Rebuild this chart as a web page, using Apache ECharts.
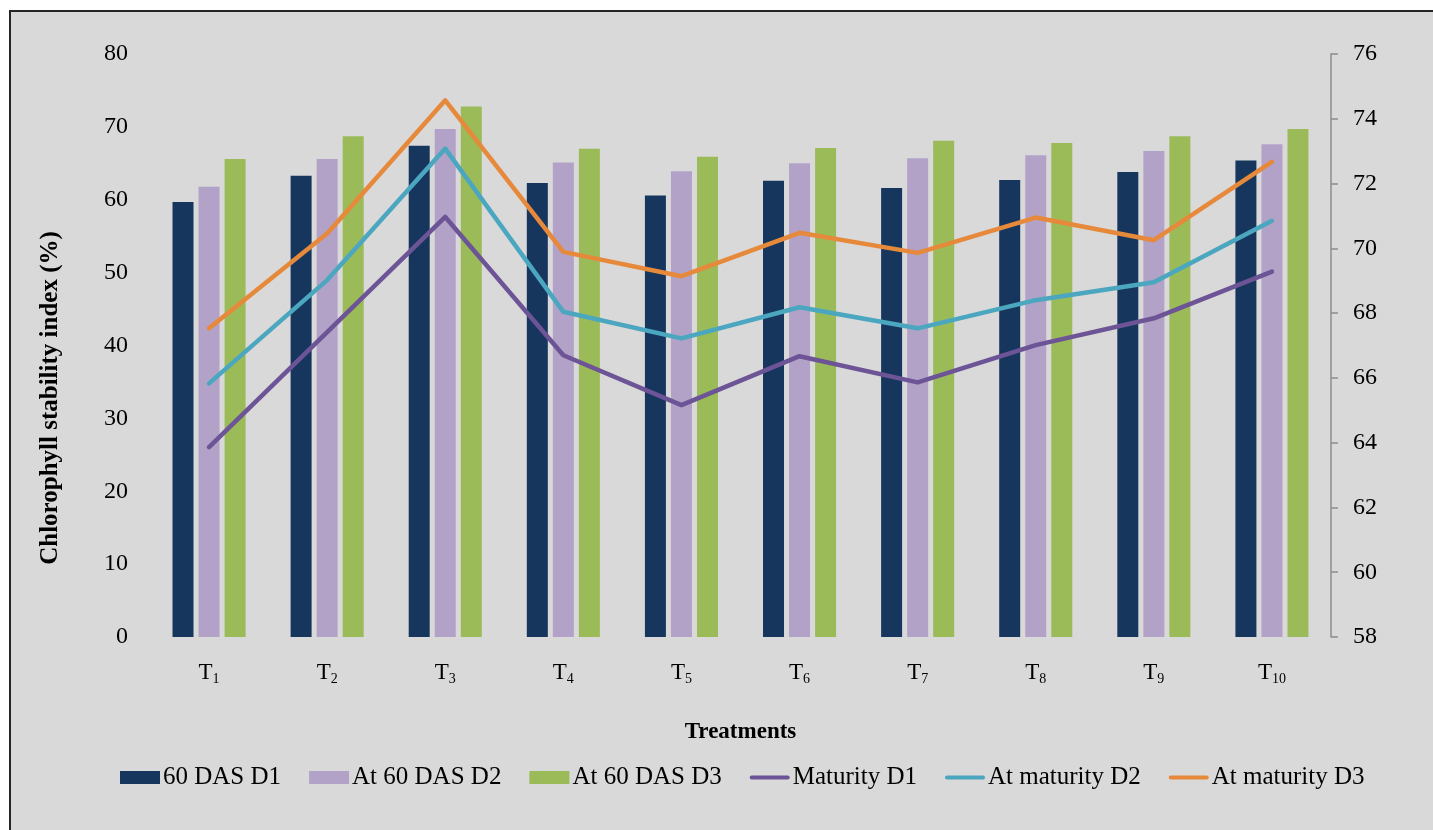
<!DOCTYPE html>
<html>
<head>
<meta charset="utf-8">
<script src="https://cdn.jsdelivr.net/npm/echarts@6/dist/echarts.min.js"></script>
<style>
  html, body { margin: 0; padding: 0; background: #ffffff; overflow: hidden; }
  #frame {
    position: absolute; left: 9px; top: 10px; width: 1440px; height: 830px;
    background: #d9d9d9; border-left: 2px solid #262626; border-top: 2px solid #262626;
  }
  #chart { position: absolute; left: 0; top: 0; width: 1433px; height: 830px; }
</style>
</head>
<body>
<div id="frame"></div>
<div id="chart"></div>
<script>
// Treatments (subscript numbers shown after "T")
const treatments = ['1', '2', '3', '4', '5', '6', '7', '8', '9', '10'];

// Chlorophyll stability index at 60 DAS (left axis, %)
const das60D1 = [59.7, 63.3, 67.4, 62.3, 60.6, 62.6, 61.6, 62.7, 63.8, 65.4];
const das60D2 = [61.8, 65.6, 69.7, 65.1, 63.9, 65.0, 65.7, 66.1, 66.7, 67.6];
const das60D3 = [65.6, 68.7, 72.8, 67.0, 65.9, 67.1, 68.1, 67.8, 68.7, 69.7];

// Chlorophyll stability index at maturity (right axis)
const maturityD1 = [63.86, 67.41, 70.97, 66.70, 65.16, 66.67, 65.86, 67.01, 67.84, 69.28];
const maturityD2 = [65.83, 69.02, 73.08, 68.04, 67.22, 68.18, 67.53, 68.40, 68.95, 70.85];
const maturityD3 = [67.53, 70.46, 74.57, 69.89, 69.14, 70.48, 69.86, 70.95, 70.25, 72.67];

const seriesNames = ['60 DAS D1', 'At 60 DAS D2', 'At 60 DAS D3', 'Maturity D1', 'At maturity D2', 'At maturity D3'];
const colors = ['#17365d', '#b3a2c7', '#9bbb59', '#6c5496', '#4ba6bf', '#e6893b'];

const serif = '"Liberation Serif", "Times New Roman", serif';
// thick rounded stroke used as the legend marker of the line series
const lineIcon = 'path://M2,0 L38,0 A2,2 0 0 1 38,4 L2,4 A2,2 0 0 1 2,0 Z';

const chart = echarts.init(document.getElementById('chart'), null, { renderer: 'canvas' });

const barSeries = [das60D1, das60D2, das60D3].map((d, i) => ({
  name: seriesNames[i], type: 'bar', yAxisIndex: 0, data: d,
  barWidth: 21, barGap: '24%',
  itemStyle: { color: colors[i] }
}));
const lineSeries = [maturityD1, maturityD2, maturityD3].map((d, i) => ({
  name: seriesNames[i + 3], type: 'line', yAxisIndex: 1, data: d,
  symbol: 'none', lineStyle: { width: 4.5, color: colors[i + 3], cap: 'round', join: 'round' },
  itemStyle: { color: colors[i + 3] }
}));

chart.setOption({
  backgroundColor: 'transparent',
  animation: false,
  textStyle: { fontFamily: serif, color: '#000' },
  grid: { left: 150, right: 102, top: 54, bottom: 193 },
  legend: {
    left: 115, top: 760,
    itemWidth: 40, itemHeight: 13, itemGap: 28,
    textStyle: { fontFamily: serif, fontSize: 25, color: '#000', padding: [0, 0, 0, -2] },
    data: seriesNames.map((n, i) => i < 3 ? { name: n, icon: 'rect' } : { name: n, icon: lineIcon })
  },
  xAxis: {
    type: 'category',
    data: treatments,
    name: 'Treatments',
    nameLocation: 'middle',
    nameGap: 84,
    nameTextStyle: { fontFamily: serif, fontSize: 23, fontWeight: 'bold', color: '#000' },
    axisLine: { show: false },
    axisTick: { show: false },
    axisLabel: {
      margin: 24,
      formatter: v => '{t|T}{s|' + v + '}',
      rich: {
        t: { fontFamily: serif, fontSize: 23, color: '#000', verticalAlign: 'bottom' },
        s: { fontFamily: serif, fontSize: 14, color: '#000', verticalAlign: 'bottom', padding: [0, 0, -2, 0] }
      }
    }
  },
  yAxis: [
    {
      type: 'value', min: 0, max: 80, interval: 10,
      name: 'Chlorophyll stability index (%)',
      nameLocation: 'middle', nameGap: 87, nameRotate: 90,
      nameTextStyle: { fontFamily: serif, fontSize: 25, fontWeight: 'bold', color: '#000', padding: [0, 105, 0, 0] },
      axisLine: { show: false }, axisTick: { show: false }, splitLine: { show: false },
      axisLabel: { margin: 22, fontFamily: serif, fontSize: 24, color: '#000' }
    },
    {
      type: 'value', min: 58, max: 76, interval: 2, position: 'right',
      axisLine: { show: true, lineStyle: { color: '#8c8c8c', width: 1.5 } },
      axisTick: { show: true, length: 7, lineStyle: { color: '#8c8c8c', width: 1.5 } },
      splitLine: { show: false },
      axisLabel: { margin: 22, fontFamily: serif, fontSize: 24, color: '#000' }
    }
  ],
  series: barSeries.concat(lineSeries)
});
</script>
</body>
</html>
